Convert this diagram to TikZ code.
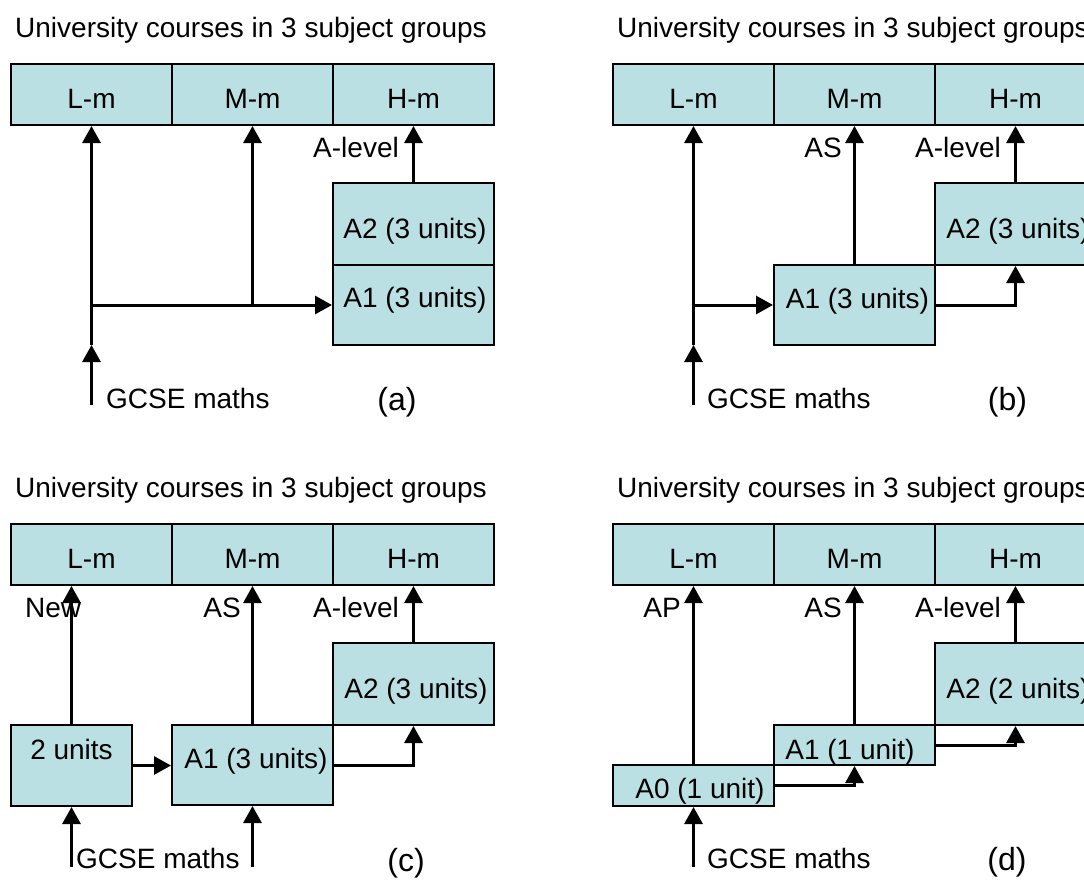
\documentclass[tikz,border=0pt]{standalone}
\usepackage{fontspec}
\setmainfont{Liberation Sans}
\usetikzlibrary{arrows.meta}
\definecolor{unitfill}{HTML}{BBE0E3}
\newcommand\unibar[1]{%
	\node[txt, anchor=west] (#1title) at (15, 27.5) {University courses in 3 subject groups};
	\node[cell] (#1lm) at (91.5, 94.5) {L-m};
	\node[cell] (#1mm) at (252.5, 94.5) {M-m};
	\node[cell] (#1hm) at (413.5, 94.5) {H-m};
}

\begin{document}
\begin{tikzpicture}[x=1pt, y=-1pt, font=\fontsize{28}{32}\selectfont,
	txt/.style={inner sep=0pt, text height=20pt, text depth=0pt},
	cell/.style={draw, line width=2pt, fill=unitfill, minimum width=161pt, minimum height=61pt, inner sep=0pt, text height=27pt, text depth=0pt},
	unit/.style={draw, line width=2pt, fill=unitfill, inner sep=0pt},
	arr/.style={line width=3pt, -{Triangle[length=17pt, width=18pt]}},
	tag/.style={inner sep=0pt, font=\fontsize{32}{36}\selectfont}]
			%%%%% START %%%%%
			\clip (0, 0) rectangle (1084, 879);
			
			% (a)
			\unibar{a}
			\node[unit, minimum width=161pt, minimum height=82pt] (aA2) at (413.5, 224) {};
			\node[unit, minimum width=161pt, minimum height=80pt] (aA1) at (413.5, 305) {};
			\node[txt] (aA2t) at (415, 228.5) {A2 (3 units)};
			\node[txt] (aA1t) at (415, 297.5) {A1 (3 units)};
			\coordinate (agcse) at (91.5, 405);
			\coordinate (ain) at (91.5, 345);
			\coordinate (ajoin) at (91.5, 305);
			\coordinate (amid) at (252.5, 305);
			\draw[arr] (agcse) -- (ain);
			\draw[arr] (ain) -- (alm.south);
			\draw[arr] (ajoin) -- (aA1.west);
			\draw[arr] (amid) -- (amm.south);
			\draw[arr] (aA2.north) -- (ahm.south);
			\node[txt, anchor=east] (alevel) at (399, 147.5) {A-level};
			\node[txt, anchor=west] (agcset) at (106, 398.5) {GCSE maths};
			\node[tag] (atag) at (397, 402.5) {(a)};
			
			% (b)
			\begin{scope}[shift={(602, 0)}]
			\unibar{b}
			\node[unit, minimum width=161pt, minimum height=82pt] (bA2) at (413.5, 224) {};
			\node[unit, minimum width=161pt, minimum height=80pt] (bA1) at (252.5, 305) {};
			\node[txt] (bA2t) at (416, 228.5) {A2 (3 units)};
			\node[txt] (bA1t) at (255.5, 298.5) {A1 (3 units)};
			\coordinate (bgcse) at (91.5, 405);
			\coordinate (bin) at (91.5, 345);
			\coordinate (bjoin) at (91.5, 305);
			\draw[arr] (bgcse) -- (bin);
			\draw[arr] (bin) -- (blm.south);
			\draw[arr] (bjoin) -- (bA1.west);
			\draw[arr] (bA1.north) -- (bmm.south);
			\draw[arr] (bA1.east) -| (bA2.south);
			\draw[arr] (bA2.north) -- (bhm.south);
			\node[txt, anchor=east] (bas) at (240, 147.5) {AS};
			\node[txt, anchor=east] (blevel) at (399, 147.5) {A-level};
			\node[txt, anchor=west] (bgcset) at (105, 398.5) {GCSE maths};
			\node[tag] (btag) at (405.5, 402.5) {(b)};
			\end{scope}
			
			% (c)
			\begin{scope}[shift={(0, 460)}]
			\unibar{c}
			\node[unit, minimum width=121pt, minimum height=81pt] (cU2) at (71.5, 305.5) {};
			\node[unit, minimum width=161pt, minimum height=80pt] (cA1) at (252.5, 305) {};
			\node[unit, minimum width=161pt, minimum height=82pt] (cA2) at (413.5, 224) {};
			\node[txt] (cU2t) at (71.5, 289) {2 units};
			\node[txt] (cA1t) at (256, 298.5) {A1 (3 units)};
			\node[txt] (cA2t) at (416, 228.5) {A2 (3 units)};
			\coordinate (cgcse) at (71.5, 407);
			\coordinate (cgcsem) at (252.5, 407);
			\node[txt, anchor=west] (cnew) at (25, 147.5) {New};
			\draw[arr] (cgcse) -- (cU2.south);
			\draw[arr] (cgcsem) -- (cA1.south);
			\draw[arr] (cU2.north) -- (cU2.north |- clm.south);
			\draw[arr] (cA1.north) -- (cmm.south);
			\draw[arr] (cA2.north) -- (chm.south);
			\draw[arr] (cU2.east) -- (cU2.east -| cA1.west);
			\draw[arr] (cA1.east) -| (cA2.south);
			\node[txt, anchor=east] (cas) at (241, 147.5) {AS};
			\node[txt, anchor=east] (clevel) at (399, 147.5) {A-level};
			\node[txt, anchor=west] (cgcset) at (76, 398.5) {GCSE maths};
			\node[tag] (ctag) at (406, 403) {(c)};
			\end{scope}
			
			% (d)
			\begin{scope}[shift={(602, 460)}]
			\unibar{d}
			\node[unit, minimum width=161pt, minimum height=41pt] (dA0) at (91.5, 325.5) {};
			\node[unit, minimum width=161pt, minimum height=40pt] (dA1) at (252.5, 285) {};
			\node[unit, minimum width=161pt, minimum height=82pt] (dA2) at (413.5, 224) {};
			\node[txt] (dA0t) at (98, 328) {A0 (1 unit)};
			\node[txt] (dA1t) at (248, 289) {A1 (1 unit)};
			\node[txt] (dA2t) at (416, 228.5) {A2 (2 units)};
			\coordinate (dgcse) at (91.5, 407);
			\draw[arr] (dgcse) -- (dA0.south);
			\draw[arr] (dA0.north) -- (dlm.south);
			\draw[arr] (dA1.north) -- (dmm.south);
			\draw[arr] (dA2.north) -- (dhm.south);
			\draw[arr] (dA0.east) -| (dA1.south);
			\draw[arr] (dA1.east) -| (dA2.south);
			\node[txt, anchor=east] (dap) at (79, 147.5) {AP};
			\node[txt, anchor=east] (das) at (240, 147.5) {AS};
			\node[txt, anchor=east] (dlevel) at (399, 147.5) {A-level};
			\node[txt, anchor=west] (dgcset) at (105, 398.5) {GCSE maths};
			\node[tag] (dtag) at (405, 402.5) {(d)};
			\end{scope}
			
			%%%%% END %%%%%
\end{tikzpicture}
\end{document}
